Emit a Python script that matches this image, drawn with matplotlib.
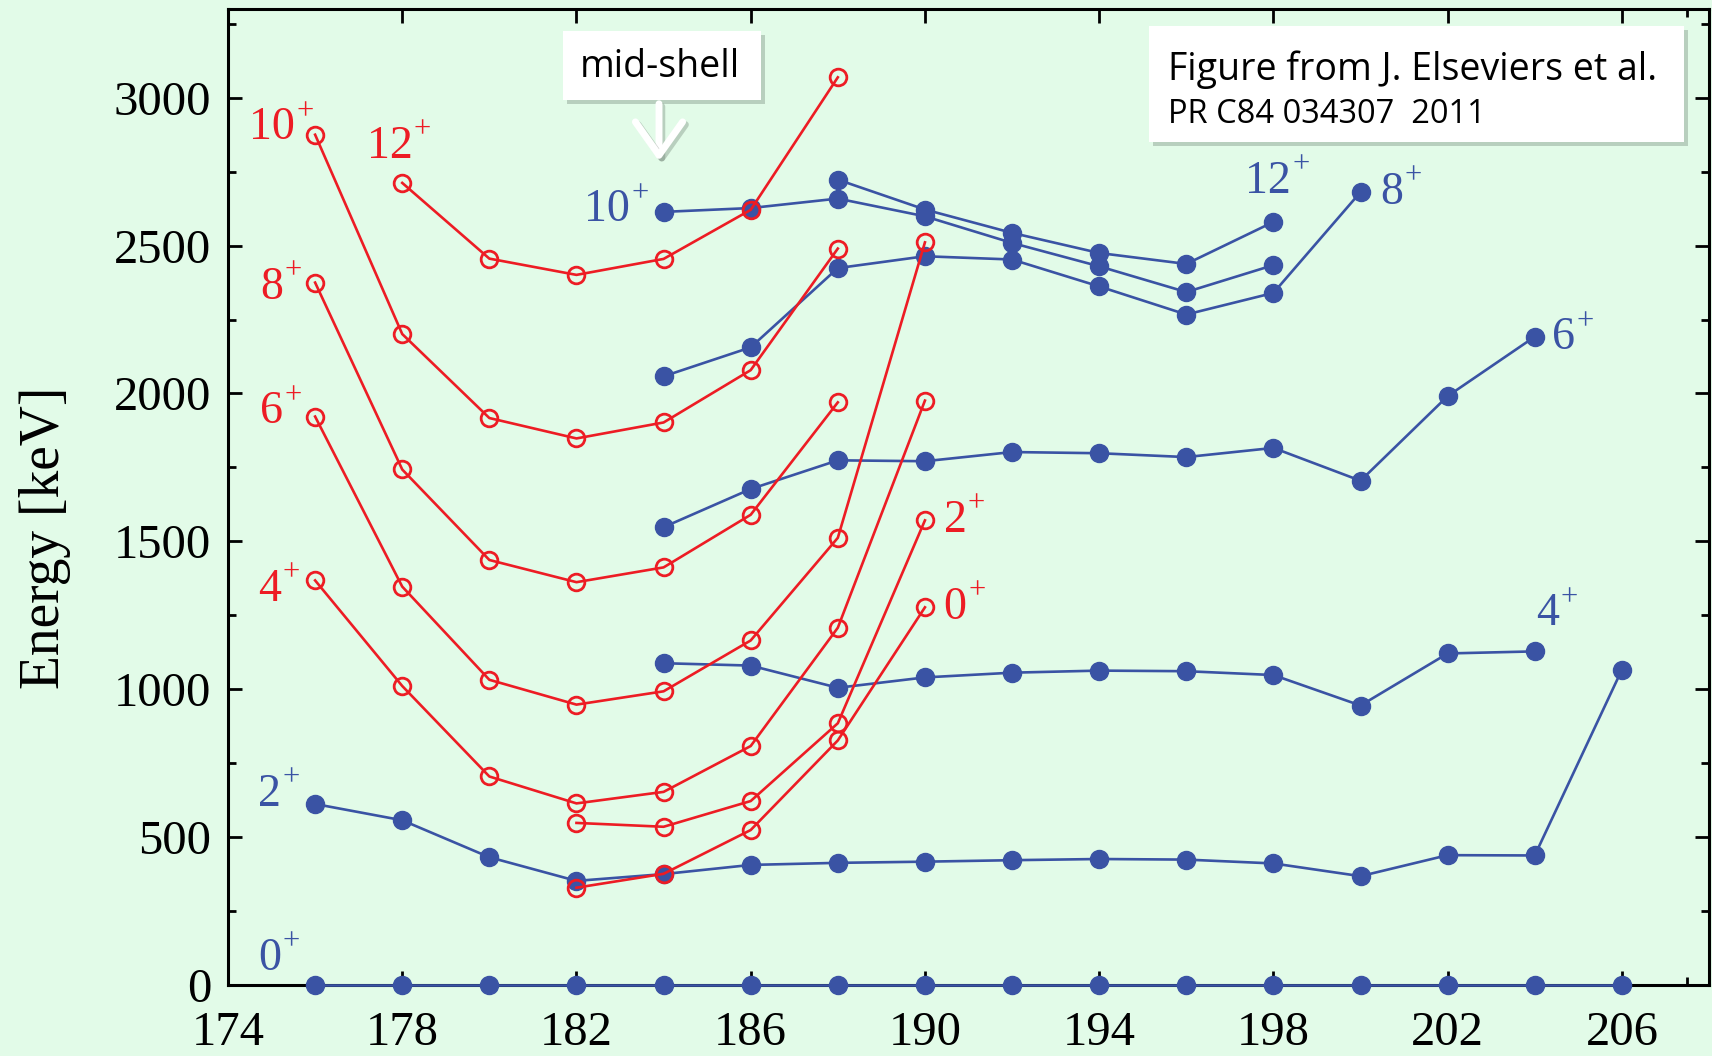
"""
Hg isotopes: level energies of ground band (blue) and intruder band (red) vs mass number.
"""
import matplotlib
matplotlib.use("Agg")
import matplotlib.pyplot as plt
from matplotlib.patches import Rectangle, FancyArrowPatch
from matplotlib.ticker import MultipleLocator
from matplotlib import patheffects as pe

plt.rcParams['font.family'] = ['Liberation Serif', 'DejaVu Serif']
plt.rcParams['mathtext.fontset'] = 'stix'

BLUE = '#3A53A4'
RED = '#ED1C24'
BG = '#E2FBE8'

# ground-state band (filled blue circles), energies in keV
mass_gs0 = [176, 178, 180, 182, 184, 186, 188, 190, 192, 194, 196, 198, 200, 202, 204, 206]
gs0 = [0, 0, 0, 0, 0, 0, 0, 0, 0, 0, 0, 0, 0, 0, 0, 0]
mass_gs2 = [176, 178, 180, 182, 184, 186, 188, 190, 192, 194, 196, 198, 200, 202, 204, 206]
gs2 = [612, 557, 432, 352, 375, 406, 413, 417, 422, 426, 424, 411, 368, 439, 438, 1066]
mass_gs4 = [184, 186, 188, 190, 192, 194, 196, 198, 200, 202, 204]
gs4 = [1088, 1080, 1005, 1040, 1056, 1063, 1061, 1048, 945, 1121, 1128]
mass_gs6 = [184, 186, 188, 190, 192, 194, 196, 198, 200, 202, 204]
gs6 = [1548, 1677, 1774, 1771, 1802, 1798, 1785, 1816, 1705, 1991, 2192]
mass_gs8 = [184, 186, 188, 190, 192, 194, 196, 198, 200]
gs8 = [2058, 2156, 2424, 2464, 2453, 2362, 2267, 2340, 2681]
mass_gs10 = [184, 186, 188, 190, 192, 194, 196, 198]
gs10 = [2614, 2627, 2659, 2599, 2509, 2430, 2343, 2434]
mass_gs12 = [188, 190, 192, 194, 196, 198]
gs12 = [2723, 2622, 2543, 2475, 2438, 2580]

# intruder band (open red circles)
mass_in0 = [182, 184, 186, 188, 190]
in0 = [329, 376, 524, 827, 1277]
mass_in2 = [182, 184, 186, 188, 190]
in2 = [548, 535, 622, 885, 1571]
mass_in4 = [176, 178, 180, 182, 184, 186, 188, 190]
in4 = [1368, 1011, 705, 614, 653, 808, 1208, 1976]
mass_in6 = [176, 178, 180, 182, 184, 186, 188, 190]
in6 = [1922, 1347, 1032, 948, 993, 1165, 1512, 2511]
mass_in8 = [176, 178, 180, 182, 184, 186, 188]
in8 = [2375, 1743, 1437, 1362, 1412, 1590, 1970]
mass_in10 = [176, 178, 180, 182, 184, 186, 188]
in10 = [2875, 2201, 1917, 1848, 1902, 2079, 2490]
mass_in12 = [178, 180, 182, 184, 186, 188]
in12 = [2712, 2456, 2401, 2455, 2621, 3069]

# spin labels: (text, x, y, colour)
labels = [
    ('10', 174.48, 2860, RED), ('12', 177.18, 2797, RED), ('8', 174.73, 2320, RED),
    ('6', 174.73, 1899, RED), ('4', 174.70, 1300, RED), ('2', 190.43, 1533, RED),
    ('0', 190.43, 1238, RED),
    ('10', 182.18, 2583, BLUE), ('12', 197.35, 2679, BLUE), ('8', 200.45, 2642, BLUE),
    ('6', 204.40, 2150, BLUE), ('4', 204.03, 1216, BLUE), ('2', 174.70, 606, BLUE),
    ('0', 174.70, 52, BLUE),
]

fig = plt.figure(figsize=(17.12, 10.56), dpi=100)
fig.patch.set_facecolor(BG)
ax = fig.add_axes([228 / 1712, 1 - 985 / 1056, 1481 / 1712, 976 / 1056])
ax.set_facecolor(BG)

# blue bands
for xs, ys in [(mass_gs0, gs0), (mass_gs2, gs2), (mass_gs4, gs4), (mass_gs6, gs6),
               (mass_gs8, gs8), (mass_gs10, gs10), (mass_gs12, gs12)]:
    ax.plot(xs, ys, '-o', color=BLUE, lw=1.9, ms=13, mec=BLUE, mfc=BLUE,
            clip_on=False, zorder=3)

# red bands drawn on top
for xs, ys in [(mass_in0, in0), (mass_in2, in2), (mass_in4, in4), (mass_in6, in6),
               (mass_in8, in8), (mass_in10, in10), (mass_in12, in12)]:
    ax.plot(xs, ys, '-o', color=RED, lw=1.9, ms=12, mec=RED, mfc='none', mew=2,
            clip_on=False, zorder=4)

for txt, x, y, c in labels:
    t = ax.text(x, y, txt, color=c, fontsize=33, ha='left', va='baseline')
    # small raised "+" right after the digits
    ax.annotate('+', xy=(1, 1), xycoords=t, xytext=(1, 7), textcoords='offset points',
                color=c, fontsize=22, ha='left', va='top')

ax.set_xlim(174, 208)
ax.set_ylim(0, 3300)
ax.set_xticks(range(174, 207, 4))
ax.set_xticks([207.5], minor=True)
ax.yaxis.set_major_locator(MultipleLocator(500))
ax.yaxis.set_minor_locator(MultipleLocator(250))
ax.tick_params(which='both', direction='in', top=True, right=True, width=2, colors='black')
ax.tick_params(which='major', length=10, labelsize=35)
ax.tick_params(which='minor', length=6)
ax.tick_params(axis='x', which='major', pad=19)
ax.tick_params(axis='y', which='major', pad=12)
for s in ax.spines.values():
    s.set_linewidth(2.2)

ax.set_ylabel('Energy [keV]', fontsize=40)
ax.yaxis.set_label_coords(-0.106, 0.458)

shadow = [pe.SimplePatchShadow(offset=(3, -3), shadow_rgbFace='#5a6a5e', alpha=0.3), pe.Normal()]

# "mid-shell" box with arrow
box1 = Rectangle((563 / 1712, 1 - 100 / 1056), 198 / 1712, 69 / 1056, transform=fig.transFigure,
                 facecolor='white', edgecolor='none', zorder=10, path_effects=shadow)
fig.add_artist(box1)
fig.text(660 / 1712, 1 - 67 / 1056, 'mid-shell', fontsize=27, family='Open Sans',
         ha='center', va='center', zorder=11)
arrow = FancyArrowPatch((659 / 1712, 1 - 101 / 1056), (659 / 1712, 1 - 164 / 1056),
                        transform=fig.transFigure, arrowstyle='->,head_length=1.2,head_width=0.85',
                        mutation_scale=20, lw=5, color='white', zorder=10,
                        path_effects=[pe.SimpleLineShadow(offset=(2, -2), shadow_color='#5a6a5e', alpha=0.3),
                                      pe.Normal()])
fig.add_artist(arrow)

# reference box
box2 = Rectangle((1149 / 1712, 1 - 142 / 1056), 535 / 1712, 116 / 1056, transform=fig.transFigure,
                 facecolor='white', edgecolor='none', zorder=10, path_effects=shadow)
fig.add_artist(box2)
fig.text(1168 / 1712, 1 - 80 / 1056, 'Figure from J. Elseviers et al.', fontsize=27,
         family='Open Sans', ha='left', va='baseline', zorder=11)
fig.text(1168 / 1712, 1 - 123 / 1056, 'PR C84 034307  2011', fontsize=23.5,
         family='Open Sans', ha='left', va='baseline', zorder=11)

fig.savefig('out.png', dpi=100, facecolor=BG)
